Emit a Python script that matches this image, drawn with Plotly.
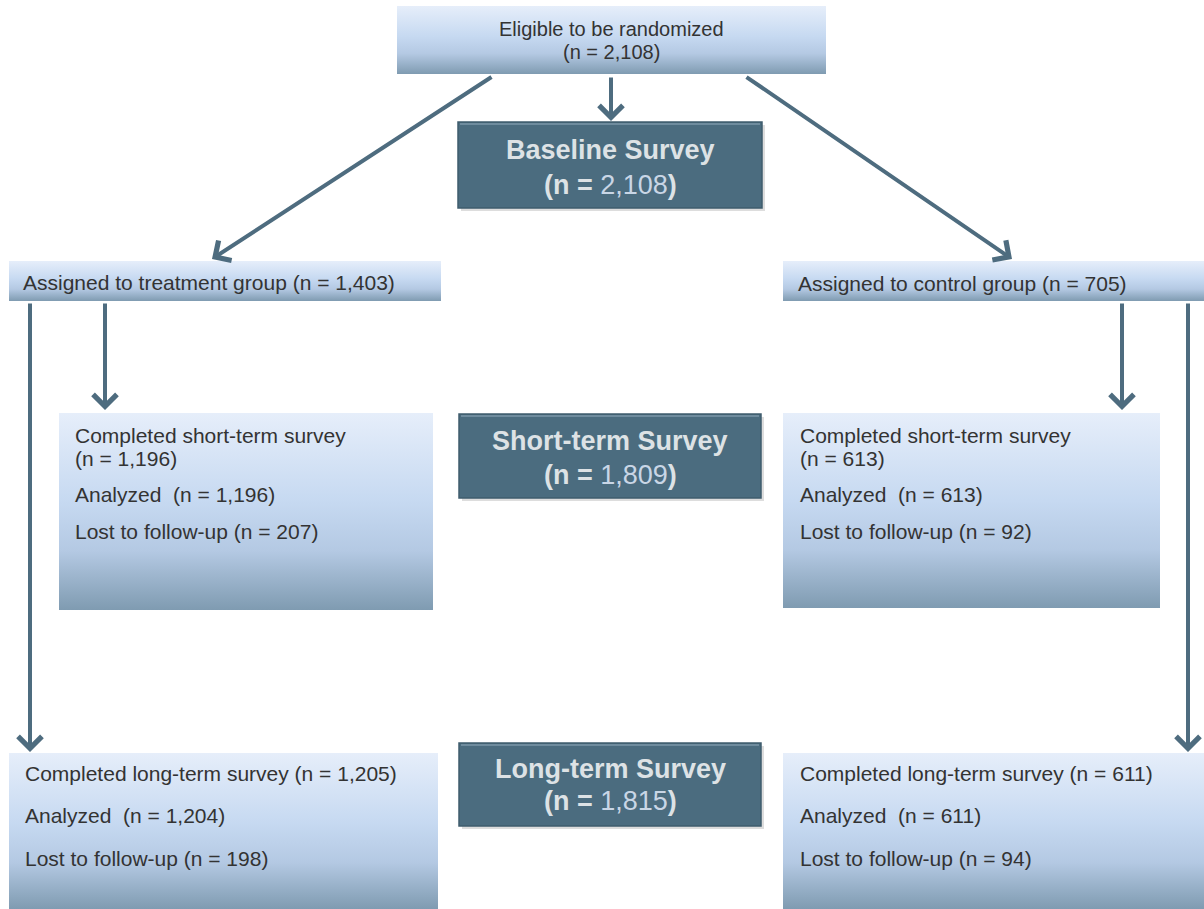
import plotly.graph_objects as go

# ---------------- data ----------------
eligible_label = "Eligible to be randomized"
eligible_n = 2108

stage_titles = ["Baseline Survey", "Short-term Survey", "Long-term Survey"]
stage_n = [2108, 1809, 1815]

group_labels = ["Assigned to treatment group", "Assigned to control group"]
group_n = [1403, 705]

short_labels = ["Completed short-term survey", "Analyzed ", "Lost to follow-up"]
treat_short_n = [1196, 1196, 207]
control_short_n = [613, 613, 92]

long_labels = ["Completed long-term survey", "Analyzed ", "Lost to follow-up"]
treat_long_n = [1205, 1204, 198]
control_long_n = [611, 611, 94]

# ---------------- layout geometry (pixels) ----------------
W, H = 1204, 909
FONT = "Liberation Sans, Arial, sans-serif"
TXT = "#333333"
DARK = "#4b6c7f"
ARROW = "#4e6c7f"
FS = 21

# colorscale: 0 = bottom of box, 1 = top of box
light_grad = [[0.0, "#7f9bb1"], [0.3, "#b4c9e3"], [0.55, "#c6d9f1"], [1.0, "#e6eefa"]]

fig = go.Figure()


def light_box(x0, y0, x1, y1):
    fig.add_trace(go.Scatter(
        x=[x0, x1, x1, x0, x0], y=[y0, y0, y1, y1, y0],
        mode="lines", fill="toself", line=dict(width=0, color="rgba(0,0,0,0)"),
        fillgradient=dict(type="vertical", colorscale=light_grad),
        hoverinfo="skip", showlegend=False))


def dark_box(x0, y0, x1, y1):
    fig.add_shape(type="rect", x0=x0 + 3, y0=y0 + 3, x1=x1 + 3, y1=y1 + 3,
                  fillcolor="rgba(120,120,120,0.25)", line=dict(width=0), layer="below")
    fig.add_shape(type="rect", x0=x0, y0=y0, x1=x1, y1=y1,
                  fillcolor=DARK, line=dict(color="#3f5c6d", width=1.5), layer="above")
    fig.add_shape(type="line", x0=x0 + 2, y0=y0 + 2, x1=x1 - 2, y1=y0 + 2,
                  line=dict(color="#6f8c9e", width=2), layer="above")


def text(x, y, s, size=FS, anchor="left", color=TXT):
    fig.add_annotation(x=x, y=y, text=s, showarrow=False, xanchor=anchor, yanchor="middle",
                       font=dict(family=FONT, size=size, color=color), borderpad=0)


def arrow(x0, y0, x1, y1):
    fig.add_annotation(x=x1, y=y1, ax=x0, ay=y0, xref="x", yref="y", axref="x", ayref="y",
                       text="", showarrow=True, arrowhead=4, arrowsize=1.15, arrowwidth=4,
                       arrowcolor=ARROW, standoff=0)


fmt = lambda n: f"{n:,}"

# light boxes
light_box(397, 6, 826, 74)
light_box(9, 261, 441, 301)
light_box(783, 261, 1204, 301)
light_box(59, 413, 433, 610)
light_box(783, 413, 1160, 608)
light_box(9, 753, 438, 909)
light_box(783, 753, 1204, 909)

# dark stage boxes
dark_rects = [(458, 122, 762, 208), (459, 414, 761, 498), (459, 743, 761, 826)]
dark_text_y = [(150, 185), (441, 475), (769, 801)]
for (x0, y0, x1, y1), title, n, (ty1, ty2) in zip(dark_rects, stage_titles, stage_n, dark_text_y):
    dark_box(x0, y0, x1, y1)
    cx = (x0 + x1) / 2
    text(cx, ty1, f"<b>{title}</b>", size=27, anchor="center", color="#dde2e5")
    text(cx, ty2, f"<b>(n = </b><span style='color:#c9d6e6'>{fmt(n)}</span><b>)</b>",
         size=27, anchor="center", color="#dde2e5")

# eligible text
text(611, 29, eligible_label, anchor="center", size=20)
text(611, 52, f"(n = {fmt(eligible_n)})", anchor="center", size=20)

# group boxes
text(22, 282, f"{group_labels[0]} (n = {fmt(group_n[0])})")
text(797, 283, f"{group_labels[1]} (n = {fmt(group_n[1])})")

# short-term boxes
for x, vals in [(74, treat_short_n), (799, control_short_n)]:
    text(x, 435, short_labels[0])
    text(x, 458, f"(n = {fmt(vals[0])})")
    text(x, 494, f"{short_labels[1]} (n = {fmt(vals[1])})")
    text(x, 531, f"{short_labels[2]} (n = {fmt(vals[2])})")

# long-term boxes
for x, vals in [(24, treat_long_n), (799, control_long_n)]:
    text(x, 773, f"{long_labels[0]} (n = {fmt(vals[0])})")
    text(x, 815, f"{long_labels[1]} (n = {fmt(vals[1])})")
    text(x, 858, f"{long_labels[2]} (n = {fmt(vals[2])})")

# arrows
arrow(493, 76, 212, 259)
arrow(611, 76, 611, 121)
arrow(745, 76, 1012, 259)
arrow(30, 302, 30, 752)
arrow(105, 302, 105, 410)
arrow(1122, 302, 1122, 410)
arrow(1188, 302, 1188, 752)

fig.update_layout(
    width=W, height=H, margin=dict(l=0, r=0, t=0, b=0),
    paper_bgcolor="white", plot_bgcolor="white",
    xaxis=dict(range=[0, W], visible=False, fixedrange=True),
    yaxis=dict(range=[H, 0], visible=False, fixedrange=True),
    showlegend=False,
)

fig.write_html("out.html", config={"displayModeBar": False},
               post_script="document.body.style.margin='0';document.body.style.overflow='hidden';")
